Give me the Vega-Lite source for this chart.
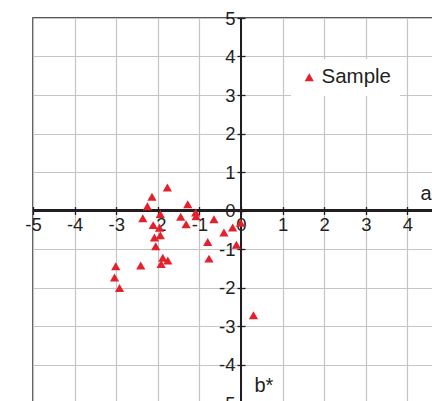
{
  "$schema": "https://vega.github.io/schema/vega-lite/v6.json",
  "width": 416,
  "height": 385,
  "autosize": {"type": "none"},
  "padding": {"left": 33, "top": 18, "right": 0, "bottom": 0},
  "config": {
    "font": "Liberation Sans",
    "view": {"stroke": "#231f20", "strokeWidth": 1.5},
    "axis": {
      "values": [-5, -4, -3, -2, -1, 0, 1, 2, 3, 4, 5],
      "labelExpr": "datum.value < 0 ? '-' + abs(datum.value) : '' + datum.value",
      "labelOverlap": false,
      "labelBound": false,
      "labelFlush": false,
      "domain": false,
      "tickSize": 8,
      "tickColor": "#231f20",
      "tickWidth": 1.3,
      "labelFontSize": 18.5,
      "labelColor": "#231f20",
      "titleFontSize": 20,
      "titleFontWeight": "normal",
      "titleColor": "#231f20",
      "titleAlign": "left",
      "titleBaseline": "alphabetic"
    },
    "axisX": {
      "labelPadding": 1,
      "titleX": 387,
      "titleY": -7
    },
    "axisY": {
      "labelPadding": 2,
      "titleAngle": 0,
      "titleX": 9,
      "titleY": 373
    },
    "legend": {
      "orient": "none",
      "legendX": 258,
      "legendY": 41,
      "fillColor": "white",
      "padding": 8,
      "labelFontSize": 20.5,
      "labelColor": "#231f20",
      "labelOffset": 2,
      "symbolSize": 85,
      "symbolStrokeWidth": 0
    }
  },
  "data": {
    "values": [
      {"a": -1.77, "b": 0.6, "series": "Sample"},
      {"a": -2.14, "b": 0.36, "series": "Sample"},
      {"a": -2.25, "b": 0.11, "series": "Sample"},
      {"a": -2.36, "b": -0.2, "series": "Sample"},
      {"a": -1.94, "b": -0.09, "series": "Sample"},
      {"a": -1.28, "b": 0.16, "series": "Sample"},
      {"a": -1.45, "b": -0.16, "series": "Sample"},
      {"a": -1.32, "b": -0.36, "series": "Sample"},
      {"a": -1.09, "b": -0.05, "series": "Sample"},
      {"a": -1.08, "b": -0.15, "series": "Sample"},
      {"a": -0.65, "b": -0.23, "series": "Sample"},
      {"a": -0.2, "b": -0.44, "series": "Sample"},
      {"a": -0.41, "b": -0.57, "series": "Sample"},
      {"a": -0.01, "b": -0.32, "series": "Sample"},
      {"a": -0.8, "b": -0.82, "series": "Sample"},
      {"a": -0.11, "b": -0.89, "series": "Sample"},
      {"a": -0.77, "b": -1.25, "series": "Sample"},
      {"a": -2.11, "b": -0.38, "series": "Sample"},
      {"a": -1.96, "b": -0.45, "series": "Sample"},
      {"a": -1.94, "b": -0.64, "series": "Sample"},
      {"a": -2.08, "b": -0.7, "series": "Sample"},
      {"a": -2.05, "b": -0.93, "series": "Sample"},
      {"a": -1.88, "b": -1.23, "series": "Sample"},
      {"a": -1.76, "b": -1.3, "series": "Sample"},
      {"a": -1.92, "b": -1.39, "series": "Sample"},
      {"a": -2.41, "b": -1.43, "series": "Sample"},
      {"a": -3.01, "b": -1.45, "series": "Sample"},
      {"a": -3.04, "b": -1.74, "series": "Sample"},
      {"a": -2.92, "b": -2.01, "series": "Sample"},
      {"a": 0.3, "b": -2.72, "series": "Sample"}
    ]
  },
  "layer": [
    {
      "mark": {"type": "rule", "color": "#231f20", "strokeWidth": 1.5},
      "encoding": {"y": {"datum": 0, "type": "quantitative", "title": "b*"}}
    },
    {
      "mark": {"type": "rule", "color": "#231f20", "strokeWidth": 1.5},
      "encoding": {"x": {"datum": 0, "type": "quantitative", "title": "a*"}}
    },
    {
      "mark": {"type": "point", "filled": true, "size": 85, "opacity": 1, "strokeWidth": 0},
      "encoding": {
        "x": {
          "field": "a",
          "type": "quantitative",
          "title": "a*",
          "scale": {"domain": [-5, 5], "nice": false, "zero": false},
          "axis": {"offset": -196.5, "grid": true, "gridColor": "#c4c4c4", "gridWidth": 1.2}
        },
        "y": {
          "field": "b",
          "type": "quantitative",
          "title": "b*",
          "scale": {"domain": [-5, 5], "nice": false, "zero": false},
          "axis": {"offset": -212, "grid": true, "gridColor": "#c4c4c4", "gridWidth": 1.2}
        },
        "color": {
          "field": "series",
          "type": "nominal",
          "scale": {"range": ["#e3202b"]},
          "legend": {"title": null}
        },
        "shape": {
          "field": "series",
          "type": "nominal",
          "scale": {"range": ["triangle-up"]},
          "legend": {"title": null}
        }
      }
    }
  ]
}
